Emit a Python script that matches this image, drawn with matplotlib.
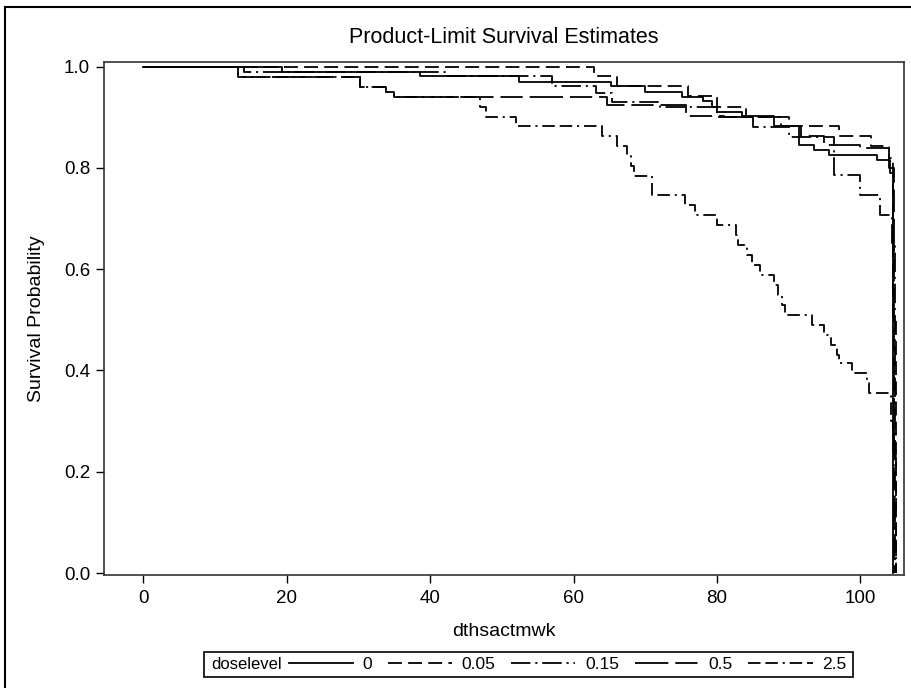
import numpy as np
import matplotlib.pyplot as plt
from matplotlib.patches import Rectangle

plt.rcParams['font.family'] = ['Liberation Sans', 'DejaVu Sans']
plt.rcParams['lines.scale_dashes'] = False

# step curves: event time (weeks) and survival just after that time
t_0 = [0, 19.3, 38.6, 52.4, 65.2, 69.9, 75.2, 78.0, 79.3, 80.0, 83.5, 88.0, 91.5, 93.5, 95.6, 102.3, 104.2, 104.6]
s_0 = [1.0, 0.99, 0.981, 0.97, 0.961, 0.95, 0.94, 0.931, 0.92, 0.911, 0.902, 0.882, 0.845, 0.835, 0.825, 0.815, 0.79, 0.0]

t_005 = [0, 62.8, 66.0, 76.0, 80.0, 84.0, 90.0, 97.0, 101.5, 104.0, 104.5, 105.0]
s_005 = [1.0, 0.981, 0.961, 0.941, 0.92, 0.90, 0.882, 0.863, 0.843, 0.82, 0.50, 0.0]

t_015 = [0, 14.0, 42.0, 57.0, 63.2, 65.3, 72.0, 80.0, 85.0, 90.0, 96.3, 99.9, 102.8, 104.4, 104.9]
s_015 = [1.0, 0.99, 0.981, 0.961, 0.947, 0.93, 0.92, 0.90, 0.88, 0.86, 0.786, 0.746, 0.707, 0.65, 0.0]

t_05 = [0, 13.2, 30.2, 33.9, 35.0, 64.7, 75.7, 81.0, 89.0, 91.7, 95.0, 100.0, 104.0, 104.7]
s_05 = [1.0, 0.98, 0.96, 0.95, 0.94, 0.924, 0.902, 0.90, 0.882, 0.863, 0.845, 0.84, 0.80, 0.0]

t_25 = [0, 13.2, 30.2, 33.9, 35.0, 47.0, 47.8, 52.0, 64.0, 66.1, 67.5, 68.0, 68.5, 70.9, 71.0,
        75.6, 77.0, 80.0, 82.7, 83.0, 84.2, 84.9, 86.0, 88.0, 88.5, 89.1, 89.5, 93.2, 95.0,
        95.9, 96.8, 97.0, 98.8, 100.9, 101.2, 104.3, 104.5, 105.0]
s_25 = [1.0, 0.98, 0.96, 0.95, 0.94, 0.92, 0.90, 0.882, 0.863, 0.843, 0.823, 0.804, 0.784, 0.765, 0.746,
        0.727, 0.707, 0.687, 0.667, 0.647, 0.628, 0.608, 0.588, 0.569, 0.549, 0.529, 0.509, 0.49, 0.47,
        0.45, 0.43, 0.414, 0.395, 0.375, 0.355, 0.30, 0.24, 0.0]

levels = ['0', '0.05', '0.15', '0.5', '2.5']
times = [t_0, t_005, t_015, t_05, t_25]
survs = [s_0, s_005, s_015, s_05, s_25]
dash_styles = ['-', (0, (10, 4.5)), (0, (14, 3.5, 1.5, 3.5)), (0, (24, 5, 16, 5)), (0, (9, 3.5, 9, 3.5, 1.5, 3.5))]

fig = plt.figure(figsize=(9.11, 6.88), dpi=100)
ax = fig.add_axes([0.1142, 0.1642, 0.8781, 0.7457])

handles = []
for lev, t, s, ls in zip(levels, times, survs, dash_styles):
    h, = ax.step(t, s, where='post', color='black', linewidth=1.3, linestyle=ls, label=lev)
    handles.append(h)

ax.set_xlim(-5.5, 106.1)
ax.set_ylim(-0.004, 1.009)
ax.set_xticks([0, 20, 40, 60, 80, 100])
ax.set_yticks([0.0, 0.2, 0.4, 0.6, 0.8, 1.0])
ax.set_yticklabels(['0.0', '0.2', '0.4', '0.6', '0.8', '1.0'])
ax.tick_params(direction='out', length=6, width=1, labelsize=13.5, pad=4)
ax.tick_params(axis='x', pad=5)
for sp in ax.spines.values():
    sp.set_linewidth(1.2)
    sp.set_color('#333333')

ax.set_xlabel('dthsactmwk', fontsize=14, va='center')
ax.xaxis.set_label_coords(0.5, -0.111)
ax.set_ylabel('Survival Probability', fontsize=14, va='center')
ax.yaxis.set_label_coords(-0.084, 0.5)
fig.text(0.553, 0.945, 'Product-Limit Survival Estimates', ha='center', va='center', fontsize=15.5)

# legend box with title on the left
fig.patches.append(Rectangle((0.224, 0.016), 0.712, 0.036, transform=fig.transFigure,
                             fill=False, edgecolor='black', linewidth=1.2))
fig.text(0.2316, 0.034, 'doselevel', ha='left', va='center', fontsize=12)
fig.legend(handles=handles, labels=levels, ncol=5, loc='center right',
           bbox_to_anchor=(0.929, 0.034), frameon=False, fontsize=12.5,
           handlelength=3.7, handletextpad=0.55, columnspacing=0.9, borderaxespad=0, borderpad=0)

# outer frame
fig.patches.append(Rectangle((0.0055, -0.1), 1.2, 1.0898, transform=fig.transFigure,
                             fill=False, edgecolor='black', linewidth=1.5))

fig.savefig('out.png', dpi=100)
